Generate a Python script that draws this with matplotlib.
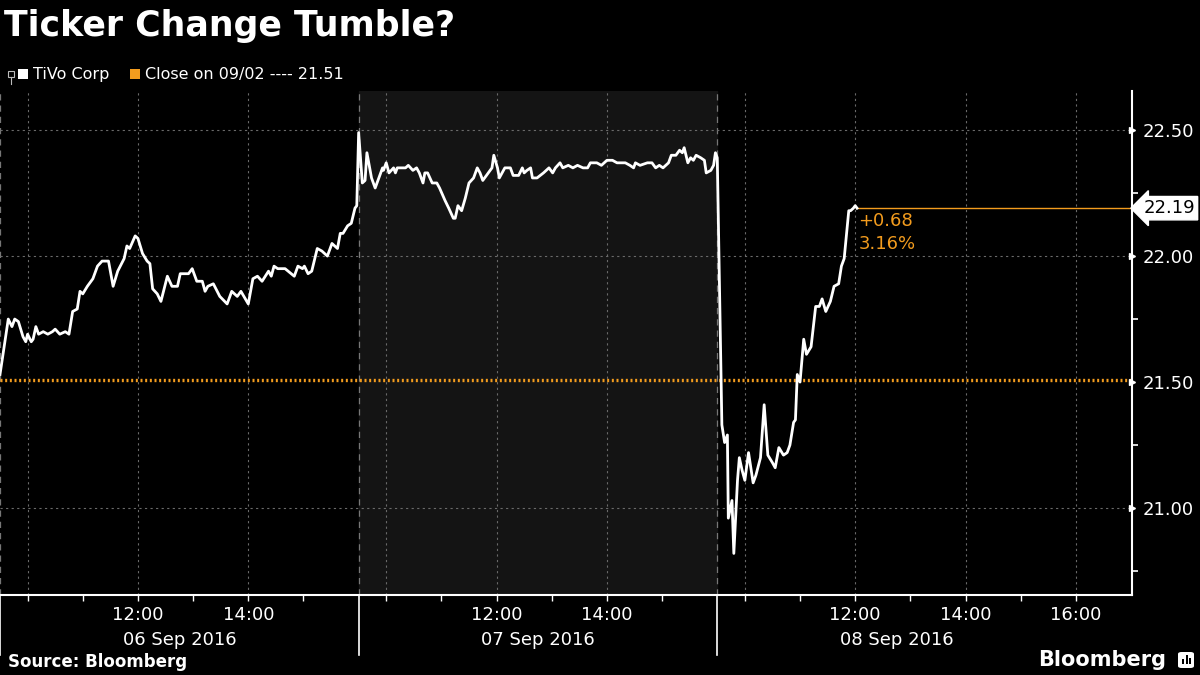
import matplotlib
matplotlib.use("Agg")
import matplotlib.pyplot as plt
import matplotlib.transforms as mtransforms
from matplotlib.patches import Rectangle, FancyBboxPatch
import numpy as np

# minutes after the 09:30 open, and price, for each session
day_labels = ["06 Sep 2016", "07 Sep 2016", "08 Sep 2016"]

d1_min = [0, 9, 13, 16, 20, 25, 28, 30, 34, 36, 39, 42, 47, 52, 57, 60, 65, 71, 75, 79,
          84, 87, 90, 95, 101, 106, 111, 118, 123, 128, 135, 138, 141, 147, 150, 155, 160, 163, 166, 171,
          175, 182, 187, 193, 196, 205, 209, 214, 220, 223, 226, 232, 239, 247, 252, 258, 262, 270, 275, 280,
          285, 292, 295, 298, 302, 310, 320, 324, 329, 331, 335, 339, 345, 350, 356, 361, 367, 370, 373, 378,
          382, 386, 388]
d1_px = [21.53, 21.75, 21.72, 21.75, 21.74, 21.68, 21.66, 21.69, 21.66, 21.67,
         21.72, 21.69, 21.70, 21.69, 21.70, 21.71, 21.69, 21.70, 21.69, 21.78,
         21.79, 21.86, 21.85, 21.88, 21.91, 21.96, 21.98, 21.98, 21.88, 21.94,
         21.99, 22.04, 22.03, 22.08, 22.07, 22.01, 21.98, 21.97, 21.87, 21.85,
         21.82, 21.92, 21.88, 21.88, 21.93, 21.93, 21.95, 21.90, 21.90, 21.86,
         21.88, 21.89, 21.84, 21.81, 21.86, 21.84, 21.86, 21.81, 21.91, 21.92,
         21.90, 21.94, 21.92, 21.96, 21.95, 21.95, 21.92, 21.96, 21.95, 21.96,
         21.93, 21.94, 22.03, 22.02, 22.00, 22.05, 22.03, 22.09, 22.09, 22.12,
         22.13, 22.19, 22.20]

d2_min = [0, 4, 7, 9, 14, 18, 21, 26, 27, 30, 33, 38, 40, 42, 51, 54, 59, 63, 66, 70,
          72, 75, 80, 85, 88, 94, 98, 103, 105, 108, 112, 116, 120, 125, 129, 132, 135, 141, 145, 147,
          151, 153, 159, 165, 168, 174, 178, 180, 183, 187, 189, 194, 201, 207, 211, 214, 219, 222, 228, 233,
          238, 244, 249, 252, 259, 264, 270, 276, 281, 290, 295, 299, 301, 306, 314, 319, 323, 327, 331, 337,
          340, 345, 349, 352, 354, 358, 361, 364, 367, 372, 376, 378, 383, 386, 388, 390]
d2_px = [22.49, 22.29, 22.30, 22.41, 22.31, 22.27, 22.30, 22.35, 22.34, 22.37,
         22.33, 22.35, 22.33, 22.35, 22.35, 22.36, 22.34, 22.35, 22.33, 22.29,
         22.33, 22.33, 22.29, 22.29, 22.27, 22.22, 22.19, 22.15, 22.15, 22.20,
         22.18, 22.23, 22.29, 22.31, 22.35, 22.33, 22.30, 22.33, 22.35, 22.40,
         22.35, 22.31, 22.35, 22.35, 22.32, 22.32, 22.35, 22.33, 22.34, 22.35,
         22.31, 22.31, 22.33, 22.35, 22.33, 22.35, 22.37, 22.35, 22.36, 22.35,
         22.36, 22.35, 22.35, 22.37, 22.37, 22.36, 22.38, 22.38, 22.37, 22.37,
         22.36, 22.35, 22.37, 22.36, 22.37, 22.37, 22.35, 22.36, 22.35, 22.37,
         22.40, 22.40, 22.42, 22.41, 22.43, 22.37, 22.39, 22.38, 22.40, 22.39,
         22.38, 22.33, 22.34, 22.36, 22.41, 22.39]

d3_min = [5, 8, 11, 12, 16, 18, 22, 24, 27, 30, 34, 39, 42, 47, 51, 55, 60, 63, 67, 72,
          76, 79, 83, 85, 87, 90, 94, 97, 102, 107, 111, 114, 118, 123, 127, 132, 135, 138, 143, 145,
          148, 150, 152]
d3_px = [21.33, 21.26, 21.29, 20.96, 21.03, 20.82, 21.11, 21.20, 21.15, 21.11,
         21.22, 21.10, 21.13, 21.20, 21.41, 21.21, 21.18, 21.16, 21.24, 21.21,
         21.22, 21.25, 21.34, 21.35, 21.53, 21.50, 21.67, 21.61, 21.64, 21.80,
         21.80, 21.83, 21.78, 21.82, 21.88, 21.89, 21.96, 21.99, 22.18, 22.18,
         22.19, 22.20, 22.19]

prev_close = 21.51
last_price = 22.19
change = "+0.68"
change_pct = "3.16%"

y_major = [21.00, 21.50, 22.00, 22.50]
y_minor = [20.75, 21.25, 21.75, 22.25]

ORANGE = "#f39c1e"
SESSION = 390  # minutes from 09:30 to 16:00

plt.rcParams["font.family"] = ["DejaVu Sans"]

fig = plt.figure(figsize=(12, 6.75), dpi=100, facecolor="black")
W, H = 1200.0, 675.0


def fx(x):
    return x / W


def fy(y):
    return 1 - y / H


ax = fig.add_axes([0, fy(595), fx(1132), (595 - 91) / H])
ax.set_facecolor("black")

# continuous x: session index * 390 + minutes after open
xs = np.concatenate([np.array(d1_min), np.array(d2_min) + SESSION, np.array(d3_min) + 2 * SESSION])
ys = np.concatenate([d1_px, d2_px, d3_px])

ax.set_xlim(0, 1231)
ax.set_ylim(20.655, 22.655)

# shaded middle session
ax.axvspan(SESSION, 2 * SESSION, color="#141414", zorder=0)

# grid
for d, hours in enumerate([[10, 12, 14], [10, 12, 14], [10, 12, 14, 16]]):
    for h in hours:
        ax.axvline(d * SESSION + (h - 9.5) * 60, color="#6a6a6a", lw=0.8,
                   ls=(0, (2, 3)), zorder=1)
for d in range(3):
    ax.axvline(d * SESSION, color="#777777", lw=0.9, ls=(0, (5, 4)), zorder=1)
for v in [21.0, 22.0, 22.5]:
    ax.axhline(v, color="#6a6a6a", lw=0.8, ls=(0, (2, 3)), zorder=1)

# previous close line
ax.axhline(prev_close, color=ORANGE, lw=2.4, ls=(0, (0.6, 0.8)), zorder=2)

# last price line
ax.plot([xs[-1], 1231], [last_price, last_price], color=ORANGE, lw=1.0, zorder=2)

ax.plot(xs, ys, color="white", lw=2, zorder=3, solid_joinstyle="round")

ax.annotate(change, xy=(xs[-1], last_price), xytext=(1, -9), textcoords="offset points",
            color=ORANGE, fontsize=13, va="center", ha="left")
ax.annotate(change_pct, xy=(xs[-1], last_price), xytext=(1, -26), textcoords="offset points",
            color=ORANGE, fontsize=13, va="center", ha="left")

# spines
for s in ["left", "top"]:
    ax.spines[s].set_visible(False)
ax.spines["right"].set_color("white")
ax.spines["right"].set_linewidth(1.5)
ax.spines["bottom"].set_color("white")
ax.spines["bottom"].set_linewidth(1.5)

# y axis on the right
ax.yaxis.tick_right()
ax.set_yticks(y_major)
ax.set_yticklabels([f"{v:.2f}" for v in y_major])
ax.set_yticks(y_minor, minor=True)
ax.tick_params(axis="y", which="major", length=0, pad=8, labelsize=13, labelcolor="white")
ax.tick_params(axis="y", which="minor", length=4, width=1.2, color="white", direction="out")
ytr = mtransforms.blended_transform_factory(ax.transAxes, ax.transData)
ax.plot([1.0] * len(y_major), y_major, ls="none", marker=">", ms=5, color="white",
        transform=ytr, clip_on=False, zorder=5)

# price tag
ax.text(1.01, last_price, f"{last_price:.2f}", transform=ytr, color="black", fontsize=13,
        va="center", ha="left",
        bbox=dict(boxstyle="larrow,pad=0.15", fc="white", ec="white"), zorder=6)

# x axis
major_x, major_lbl, minor_x = [], [], []
for d, last_h in enumerate([15, 15, 16]):
    for h in range(10, last_h + 1):
        pos = d * SESSION + (h - 9.5) * 60
        if h in (12, 14) or (h == 16 and d == 2):
            major_x.append(pos)
            major_lbl.append(f"{h}:00")
        else:
            minor_x.append(pos)
ax.set_xticks(major_x)
ax.set_xticklabels(major_lbl)
ax.set_xticks(minor_x, minor=True)
ax.tick_params(axis="x", which="both", length=4, width=1, color="white", direction="out")
ax.tick_params(axis="x", which="major", pad=4, labelsize=13, labelcolor="white")

xtr = mtransforms.blended_transform_factory(ax.transData, ax.transAxes)
for d, lbl in enumerate(day_labels):
    ax.text(d * SESSION + SESSION / 2, -0.09, lbl, transform=xtr, color="white",
            fontsize=13, ha="center", va="center")
for d in range(3):
    ax.plot([d * SESSION, d * SESSION], [0, -0.12], color="white", lw=1.2,
            transform=xtr, clip_on=False)

# title and legend
fig.text(fx(4), fy(26), "Ticker Change Tumble?", color="white", fontsize=25,
         fontweight="bold", va="center", ha="left")

fig.patches.append(Rectangle((fx(8), fy(77)), 6 / W, 6 / H, transform=fig.transFigure,
                             fill=False, ec="#bbbbbb", lw=0.8))
fig.lines.append(plt.Line2D([fx(11), fx(11)], [fy(77), fy(84)], transform=fig.transFigure,
                            color="#bbbbbb", lw=0.8))
fig.patches.append(Rectangle((fx(18), fy(79)), 10 / W, 10 / H, transform=fig.transFigure,
                             fc="white", ec="none"))
fig.text(fx(33), fy(74), "TiVo Corp", color="white", fontsize=11.5, va="center", ha="left")
fig.patches.append(Rectangle((fx(130), fy(79)), 10 / W, 10 / H, transform=fig.transFigure,
                             fc=ORANGE, ec="none"))
fig.text(fx(145), fy(74), f"Close on 09/02 ---- {prev_close:.2f}", color="white",
         fontsize=11.5, va="center", ha="left")

# footer
fig.text(fx(8), fy(662), "Source: Bloomberg", color="white", fontsize=12,
         fontweight="bold", va="center", ha="left")
fig.text(fx(1166), fy(660), "Bloomberg", color="white", fontsize=15,
         fontweight="bold", va="center", ha="right")
fig.patches.append(FancyBboxPatch((fx(1178), fy(668)), 16 / W, 16 / H,
                                  boxstyle="round,pad=0,rounding_size=0.003",
                                  transform=fig.transFigure, fc="white", ec="none"))
for bx, bh in [(1182, 5), (1185.5, 9), (1189, 6)]:
    fig.patches.append(Rectangle((fx(bx), fy(664)), 2 / W, bh / H, transform=fig.transFigure,
                                 fc="black", ec="none"))

fig.savefig("out.png", dpi=100, facecolor="black")
